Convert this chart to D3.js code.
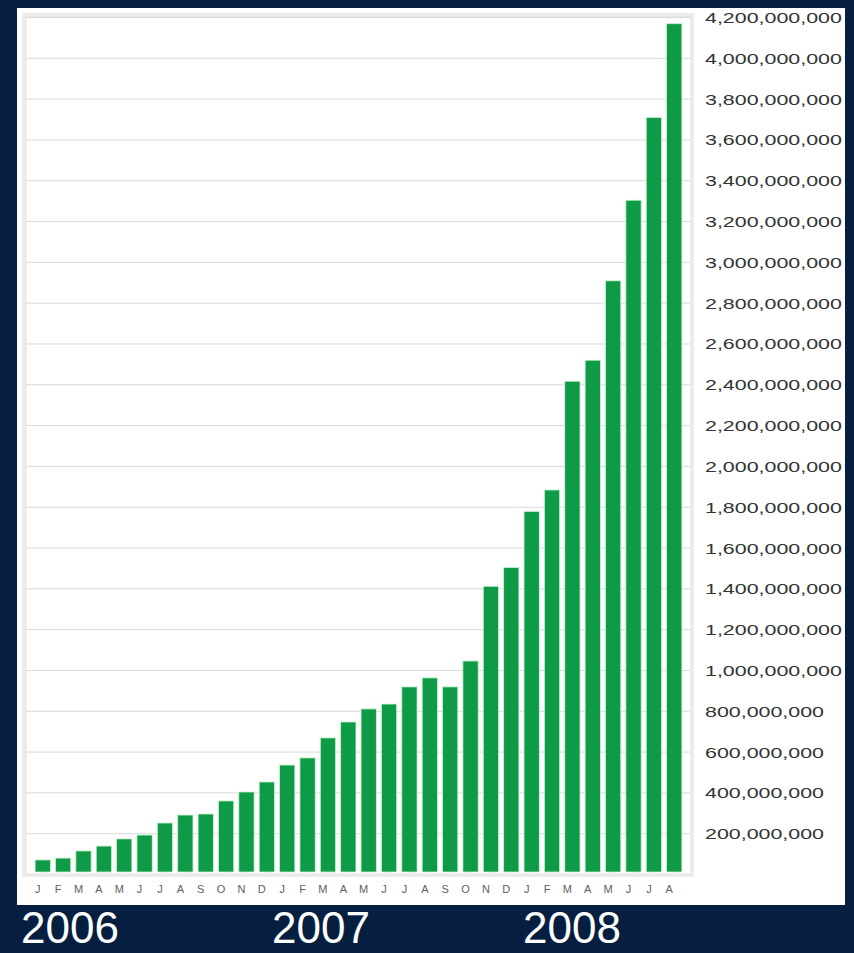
<!DOCTYPE html>
<html>
<head>
<meta charset="utf-8">
<script src="https://cdn.jsdelivr.net/npm/d3@7"></script>
<style>
  html, body { margin: 0; padding: 0; background: #061f40; }
  svg { display: block; }
</style>
</head>
<body>
<svg id="chart" width="854" height="953"></svg>
<script>
// monthly values, Jan 2006 - Aug 2008
var months = ["J","F","M","A","M","J","J","A","S","O","N","D",
              "J","F","M","A","M","J","J","A","S","O","N","D",
              "J","F","M","A","M","J","J","A"];
var values = [69e6, 78e6, 113e6, 137e6, 172e6, 191e6, 250e6, 289e6, 294e6, 358e6, 402e6, 451e6,
              534e6, 569e6, 667e6, 745e6, 809e6, 833e6, 917e6, 961e6, 917e6, 1044e6, 1410e6, 1502e6,
              1777e6, 1882e6, 2415e6, 2518e6, 2907e6, 3302e6, 3708e6, 4167e6];
var yTicks = d3.range(200e6, 4200e6 + 1, 200e6);
var years = [2006, 2007, 2008];

var svg = d3.select("#chart");

// white panel
svg.append("rect")
    .attr("x",17).attr("y",8)
    .attr("width",828).attr("height",897)
    .attr("fill","#ffffff");

// plot frame with soft shadow
svg.append("rect")
    .attr("x",24).attr("y",15)
    .attr("width",668).attr("height",860)
    .attr("fill","none")
    .attr("stroke","#ececec")
    .attr("stroke-width",4);
svg.append("rect")
    .attr("x",26).attr("y",17)
    .attr("width",665).attr("height",857)
    .attr("fill","#ffffff")
    .attr("stroke","#e2e2e2")
    .attr("stroke-width",1);

var keys = d3.range(months.length);
var x = d3.scaleBand()
    .domain(keys)
    .range([29, 688])
    .paddingInner(0.25)
    .paddingOuter(0.3);

var y = d3.scaleLinear()
    .domain([0, 4200e6])
    .range([874, 17]);

// gridlines
var grid = svg.append("g")
    .attr("transform","translate(26,0)")
    .call(d3.axisRight(y).tickValues(yTicks).tickSize(664).tickFormat(""));
grid.select(".domain").remove();
grid.selectAll("line").attr("stroke","#d9d9d9").attr("stroke-width",1);

// bars
svg.append("g")
    .selectAll("rect")
    .data(values)
    .enter()
    .append("rect")
    .attr("x",function(d,i){ return x(i); })
    .attr("width",x.bandwidth())
    .attr("y",function(d){ return y(d); })
    .attr("height",function(d){ return y(0) - 2 - y(d); })
    .attr("fill","#0f9a47")
    .attr("stroke","#c9f3cc")
    .attr("stroke-width",0.8);

// right axis labels
var yAxis = svg.append("g")
    .attr("transform","translate(705,1)")
    .call(d3.axisRight(y).tickValues(yTicks).tickSize(0).tickPadding(0).tickFormat(d3.format(",")));
yAxis.select(".domain").remove();
yAxis.selectAll("text")
    .attr("x",0)
    .attr("transform","scale(1.53,1)")
    .attr("font-family","Arial, 'Liberation Sans', sans-serif")
    .attr("font-size",14)
    .attr("fill","#333333");

// month labels
var xAxis = svg.append("g")
    .attr("transform","translate(-5,885)")
    .call(d3.axisBottom(x).tickSize(0).tickPadding(0).tickFormat(function(i){ return months[i]; }));
xAxis.select(".domain").remove();
xAxis.selectAll("text")
    .attr("font-family","Arial, 'Liberation Sans', sans-serif")
    .attr("font-size",11)
    .attr("fill","#606060");

// year labels below the panel
var yearX = d3.scaleLinear().domain([2006, 2008]).range([21, 523]);
svg.append("g")
    .selectAll("text")
    .data(years)
    .enter()
    .append("text")
    .attr("x",function(d){ return yearX(d); })
    .attr("y",943)
    .attr("font-family","Arial, 'Liberation Sans', sans-serif")
    .attr("font-size",44)
    .attr("fill","#ffffff")
    .text(function(d){ return d; });
</script>
</body>
</html>
